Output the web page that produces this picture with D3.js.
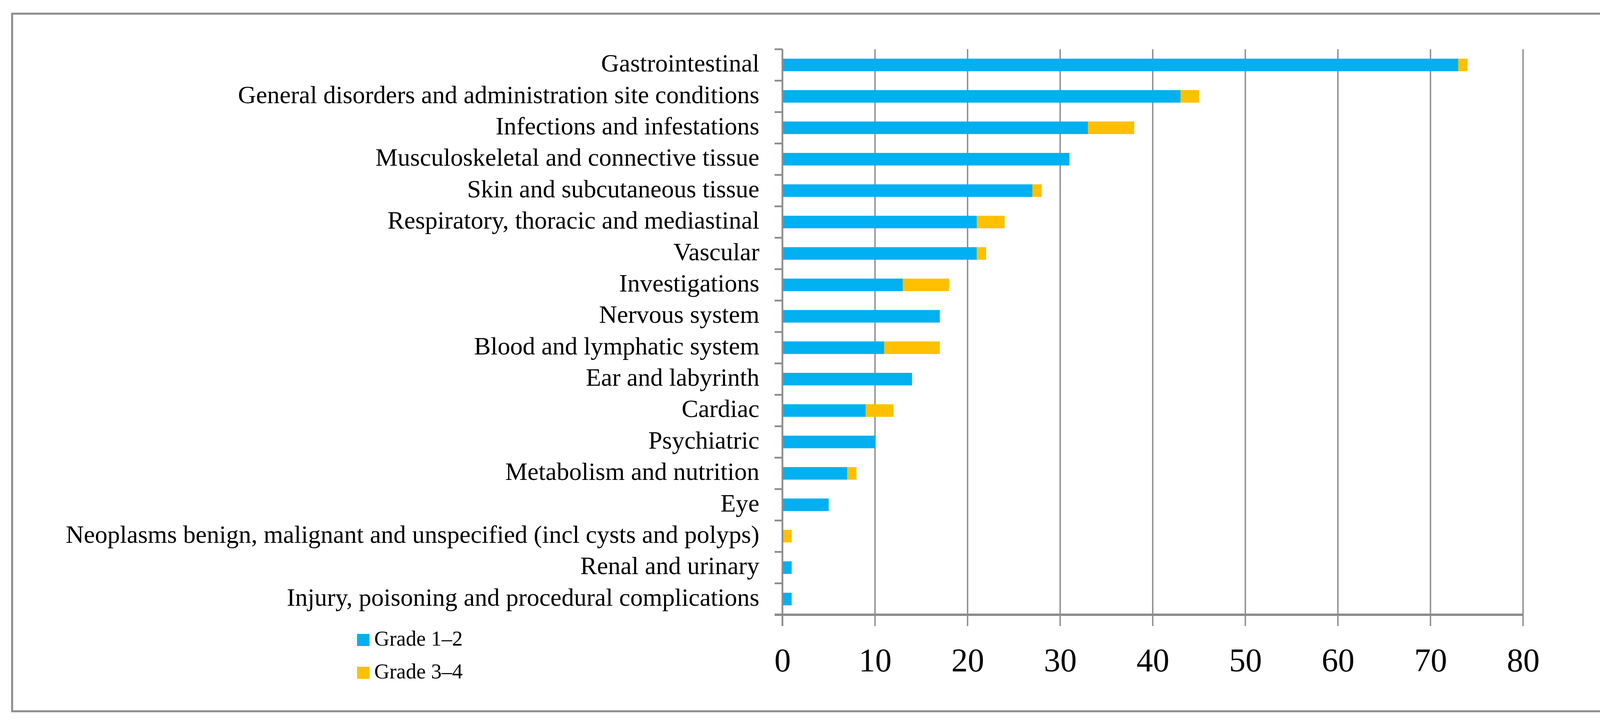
<!DOCTYPE html>
<html>
<head>
<meta charset="utf-8">
<script src="https://cdn.jsdelivr.net/npm/d3@7"></script>
<style>
  html, body { margin: 0; padding: 0; background: #fff; overflow: hidden; }
  svg { display: block; }
</style>
</head>
<body>
<svg id="chart"></svg>
<script>
  'use strict';

  var categories = [
    'Gastrointestinal',
    'General disorders and administration site conditions',
    'Infections and infestations',
    'Musculoskeletal and connective tissue',
    'Skin and subcutaneous tissue',
    'Respiratory, thoracic and mediastinal',
    'Vascular',
    'Investigations',
    'Nervous system',
    'Blood and lymphatic system',
    'Ear and labyrinth',
    'Cardiac',
    'Psychiatric',
    'Metabolism and nutrition',
    'Eye',
    'Neoplasms benign, malignant and unspecified (incl cysts and polyps)',
    'Renal and urinary',
    'Injury, poisoning and procedural complications'
  ];
  var grade12 = [73, 43, 33, 31, 27, 21, 21, 13, 17, 11, 14, 9, 10, 7, 5, 0, 1, 1];
  var grade34 = [1, 2, 5, 0, 1, 3, 1, 5, 0, 6, 0, 3, 0, 1, 0, 1, 0, 0];
  var seriesNames = ['Grade 1\u20132', 'Grade 3\u20134'];
  var seriesColors = ['#00b0f0', '#ffc000'];
  var xTicks = [0, 10, 20, 30, 40, 50, 60, 70, 80];

  var W = 4335, H = 1850;
  var gray = '#8c8c8c';
  var font = '"Liberation Serif", "Times New Roman", serif';

  var svg = d3.select('#chart')
    .attr('width', W)
    .attr('height', H);

  /* Outer frame */
  svg.append('rect')
    .attr('x', 31).attr('y', 35)
    .attr('width', 4276).attr('height', 1785)
    .attr('fill', 'none')
    .attr('stroke', gray)
    .attr('stroke-width', 5);

  var x = d3.scaleLinear().domain([0, 80]).range([2003, 3899]);
  var y = d3.scaleBand().domain(categories).range([126, 1573])
    .paddingInner(0.6).paddingOuter(0.3);

  var yTop = y.range()[0], yBottom = y.range()[1];

  /* Vertical grid lines, running a bit below the axis like tick marks */
  svg.append('g').selectAll('line')
    .data(xTicks.filter(function(d) { return d > 0; }))
    .enter().append('line')
      .attr('x1', function(d) { return x(d); })
      .attr('x2', function(d) { return x(d); })
      .attr('y1', yTop).attr('y2', yBottom + 29)
      .attr('stroke', gray)
      .attr('stroke-width', 3.5);

  /* Stacked bars */
  var rows = categories.map(function(c, i) {
    return { cat: c, a: grade12[i], b: grade34[i] };
  });
  var stack = d3.stack().keys(['a', 'b'])(rows);

  svg.append('g').selectAll('g')
    .data(stack)
    .enter().append('g')
      .attr('fill', function(d, i) { return seriesColors[i]; })
    .selectAll('rect')
    .data(function(d) { return d; })
    .enter().append('rect')
      .attr('x', function(d) { return x(d[0]); })
      .attr('width', function(d) { return x(d[1]) - x(d[0]); })
      .attr('y', function(d) { return y(d.data.cat); })
      .attr('height', y.bandwidth());

  /* Y axis line and category tick marks */
  var step = y.step();
  svg.append('line')
    .attr('x1', x(0)).attr('x2', x(0))
    .attr('y1', yTop).attr('y2', yBottom + 29)
    .attr('stroke', gray).attr('stroke-width', 4.5);

  svg.append('g').selectAll('line')
    .data(d3.range(categories.length))
    .enter().append('line')
      .attr('x1', x(0) - 20).attr('x2', x(0))
      .attr('y1', function(i) { return yTop + i * step; })
      .attr('y2', function(i) { return yTop + i * step; })
      .attr('stroke', gray).attr('stroke-width', 4.5);

  /* Category labels */
  svg.append('g').selectAll('text')
    .data(categories)
    .enter().append('text')
      .attr('x', 1944)
      .attr('y', function(d) { return y(d) + y.bandwidth() / 2 + 17; })
      .attr('text-anchor', 'end')
      .attr('font-family', font)
      .attr('font-size', 64)
      .attr('fill', '#000')
      .text(function(d) { return d; });

  /* X axis */
  var xAxis = d3.axisBottom(x)
    .tickValues(xTicks)
    .tickSize(0);

  var gx = svg.append('g')
    .attr('transform', 'translate(0,' + yBottom + ')')
    .call(xAxis);
  gx.select('.domain').remove();
  gx.selectAll('text')
    .attr('y', 145)
    .attr('dy', 0)
    .attr('font-family', font)
    .attr('font-size', 84)
    .attr('fill', '#000');

  svg.append('line')
    .attr('x1', x(0) - 20).attr('x2', x(80))
    .attr('y1', yBottom).attr('y2', yBottom)
    .attr('stroke', gray).attr('stroke-width', 6);

  /* Legend */
  var legend = svg.append('g').selectAll('g')
    .data(seriesNames)
    .enter().append('g')
      .attr('transform', function(d, i) {
        return 'translate(914,' + (1622 + i * 84) + ')';
      });
  legend.append('rect')
    .attr('width', 32).attr('height', 31)
    .attr('fill', function(d, i) { return seriesColors[i]; });
  legend.append('text')
    .attr('x', 44).attr('y', 30)
    .attr('font-family', font)
    .attr('font-size', 54)
    .attr('fill', '#000')
    .text(function(d) { return d; });
</script>
</body>
</html>
